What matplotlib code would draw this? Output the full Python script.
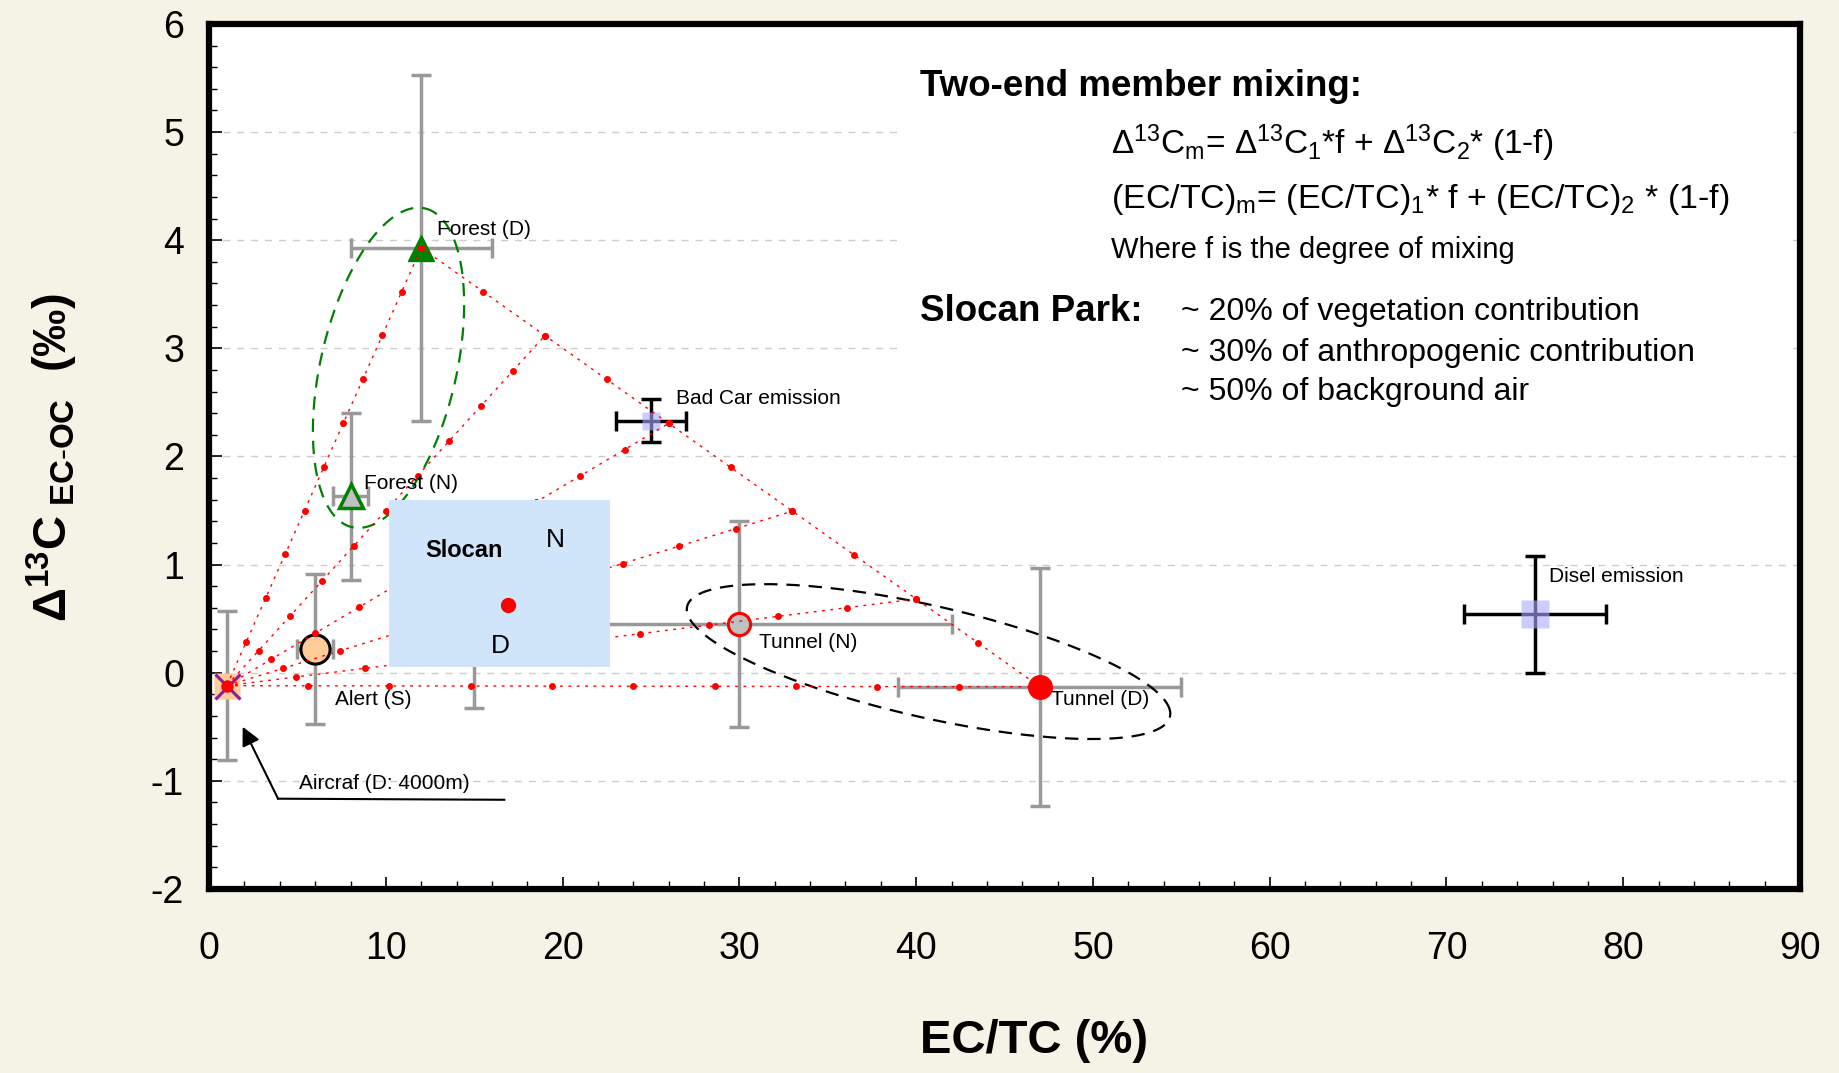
import numpy as np
import matplotlib.pyplot as plt
from matplotlib.patches import Rectangle
from matplotlib.ticker import MultipleLocator

plt.rcParams['font.family'] = ['Liberation Sans', 'DejaVu Sans']
plt.rcParams['mathtext.fontset'] = 'custom'
plt.rcParams['mathtext.rm'] = 'Liberation Sans'
plt.rcParams['mathtext.it'] = 'Liberation Sans:italic'
plt.rcParams['mathtext.bf'] = 'Liberation Sans:bold'
plt.rcParams['mathtext.default'] = 'regular'
plt.rcParams['axes.unicode_minus'] = False

# source samples: EC/TC (%) and D13C EC-OC (permil) with error bars
names = ['Aircraf (D: 4000m)', 'Alert (S)', 'Forest (N)', 'Forest (D)',
         'Bad Car emission', 'Tunnel (N)', 'Tunnel (D)', 'Disel emission']
ec_tc = [1.0, 6.0, 8.0, 12.0, 25.0, 30.0, 47.0, 75.0]
d13c = [-0.12, 0.22, 1.63, 3.93, 2.33, 0.45, -0.13, 0.54]
ec_tc_err = [0.0, 1.0, 1.0, 4.0, 2.0, 12.0, 8.0, 4.0]
d13c_err = [0.69, 0.69, 0.77, 1.6, 0.2, 0.95, 1.1, 0.54]

# Slocan park sample (and the one mostly hidden behind the label box)
slocan_x, slocan_y = 16.9, 0.63
slocan_hidden_x, slocan_hidden_y, slocan_hidden_err = 15.0, 0.55, 0.88

# two-end member mixing: fractions along each mixing line
mix_frac = [0.0, 0.1, 0.2, 0.3, 0.4, 0.5, 0.6, 0.7, 0.8, 0.9, 1.0]
target_frac = [0.0, 0.2, 0.4, 0.6, 0.8, 1.0]

fig = plt.figure(figsize=(18.39, 10.73), dpi=100, facecolor='#F5F3E5')
ax = fig.add_axes([0.1137, 0.1715, 0.8651, 0.8062])

ax.set_xlim(0, 90)
ax.set_ylim(-2, 6)
ax.xaxis.set_major_locator(MultipleLocator(10))
ax.xaxis.set_minor_locator(MultipleLocator(2))
ax.yaxis.set_major_locator(MultipleLocator(1))
ax.yaxis.set_minor_locator(MultipleLocator(0.2))
ax.tick_params(which='both', direction='in', top=False, right=False)
ax.tick_params(which='major', length=9, width=1.2, labelsize=27)
ax.tick_params(which='minor', length=6, width=1.0)
ax.tick_params(axis='y', which='major', pad=18)
ax.tick_params(axis='x', which='major', pad=30)
for s in ax.spines.values():
    s.set_linewidth(4.5)
ax.yaxis.grid(True, color='#cccccc', linestyle=(0, (5, 5)), lw=1)
ax.set_axisbelow(True)

# white panel behind the explanation text
ax.add_patch(Rectangle((39.3, 2.37), 50.3, 3.4, facecolor='white', edgecolor='none', zorder=1))

grey = '#999999'
ebkw = dict(fmt='none', capsize=7, elinewidth=2.5, capthick=2.5, zorder=2)

# error bars
for i in range(len(names)):
    col = 'black' if 'emission' in names[i] else grey
    ax.errorbar(ec_tc[i], d13c[i], xerr=ec_tc_err[i] if ec_tc_err[i] > 0 else None,
                yerr=d13c_err[i], ecolor=col, **ebkw)
ax.errorbar(slocan_hidden_x, slocan_hidden_y, yerr=slocan_hidden_err, ecolor=grey, **ebkw)

# mixing lines
ax_x, ax_y = ec_tc[0], d13c[0]
fd_x, fd_y = ec_tc[3], d13c[3]
td_x, td_y = ec_tc[6], d13c[6]
f = np.array(mix_frac)
ax.plot(fd_x + (td_x - fd_x) * f, fd_y + (td_y - fd_y) * f, color='red', lw=1,
        ls=(0, (2, 4)), marker='o', ms=5, mec='none', zorder=4)
for t in target_frac:
    ex = fd_x + (td_x - fd_x) * t
    ey = fd_y + (td_y - fd_y) * t
    ax.plot(ax_x + (ex - ax_x) * f, ax_y + (ey - ax_y) * f, color='red', lw=1,
            ls=(0, (2, 4)), marker='o', ms=5, mec='none', zorder=4)

# source markers
ax.plot(ec_tc[0], d13c[0], 's', ms=19, mfc='#FFCC99', mec='none', zorder=3)
ax.plot(ec_tc[0], d13c[0], 'x', ms=18, mew=2.2, color='#8B1A9E', zorder=3.5)
ax.plot(ec_tc[0], d13c[0], 'o', ms=9, color='red', mec='none', zorder=4.5)
ax.plot(ec_tc[1], d13c[1], 'o', ms=21, mfc='#FFCC99', mec='black', mew=2.2, zorder=3)
ax.plot(ec_tc[2], d13c[2], '^', ms=17, mfc='#C0C0C0', mec='#008000', mew=2.5, zorder=3)
ax.plot(ec_tc[3], d13c[3], '^', ms=19, mfc='#008000', mec='#008000', zorder=3)
ax.plot(ec_tc[4], d13c[4], 's', ms=13, mfc='#AAAAFF', mec='none', alpha=0.6, zorder=3)
ax.plot(ec_tc[5], d13c[5], 'o', ms=16, mfc='#C0C0C0', mec='red', mew=2.2, zorder=3)
ax.plot(ec_tc[6], d13c[6], 'o', ms=17, mfc='red', mec='red', zorder=5)
ax.plot(ec_tc[7], d13c[7], 's', ms=20, mfc='#AAAAFF', mec='none', alpha=0.6, zorder=3)

# ellipses around forest and tunnel groups
tt = np.linspace(0, 2 * np.pi, 300)
ax.plot(10.15 + 2.06 * np.cos(tt) + 3.75 * np.sin(tt),
        2.82 + 1.474 * np.cos(tt) - 0.14 * np.sin(tt),
        color='#008000', lw=1.6, ls=(0, (6, 4)), zorder=3.8)
ax.plot(40.7 + 13.66 * np.cos(tt) - 0.69 * np.sin(tt),
        0.103 - 0.455 * np.cos(tt) + 0.553 * np.sin(tt),
        color='black', lw=1.6, ls=(0, (6, 4)), zorder=3.8)

# Slocan box
ax.add_patch(Rectangle((10.15, 0.05), 12.55, 1.55, facecolor='#D0E4FA', edgecolor='none', zorder=6))
ax.plot(slocan_x, slocan_y, 'o', ms=11, color='red', mec='none', zorder=7)
ax.text(14.4, 1.13, 'Slocan', fontsize=17, fontweight='bold', ha='center', va='center', zorder=7)
ax.text(19.6, 1.23, 'N', fontsize=19, ha='center', va='center', zorder=7)
ax.text(16.5, 0.25, 'D', fontsize=19, ha='center', va='center', zorder=7)

# point labels
label_pos = [(5.1, -1.02), (7.1, -0.25), (8.75, 1.75), (12.9, 4.1),
             (26.4, 2.54), (31.1, 0.28), (47.6, -0.25), (75.8, 0.89)]
for name, (lx, ly) in zip(names, label_pos):
    ax.text(lx, ly, name, fontsize=15, ha='left', va='center', zorder=8)

# aircraft pointer
ax.plot([3.9, 16.7], [-1.165, -1.175], color='black', lw=1.5, zorder=8)
ax.annotate('', xy=(1.9, -0.5), xytext=(3.9, -1.165),
            arrowprops=dict(arrowstyle='-|>', color='black', lw=1.5, mutation_scale=28,
                            shrinkA=0, shrinkB=0), zorder=8)

# explanation text
ax.text(0.447, 0.928, 'Two-end member mixing:', transform=ax.transAxes,
        fontsize=26.5, fontweight='bold', va='center')
ax.text(0.567, 0.862, 'Δ$^{13}$C$_m$= Δ$^{13}$C$_1$*f + Δ$^{13}$C$_2$* (1-f)',
        transform=ax.transAxes, fontsize=24, va='center')
ax.text(0.567, 0.797, '(EC/TC)$_m$= (EC/TC)$_1$* f + (EC/TC)$_2$ * (1-f)',
        transform=ax.transAxes, fontsize=24.5, va='center')
ax.text(0.567, 0.7385, 'Where f is the degree of mixing', transform=ax.transAxes,
        fontsize=21, va='center')
ax.text(0.447, 0.668, 'Slocan Park:', transform=ax.transAxes,
        fontsize=26.5, fontweight='bold', va='center')
for k, line in enumerate(['~ 20% of vegetation contribution',
                          '~ 30% of anthropogenic contribution',
                          '~ 50% of background air']):
    ax.text(0.611, [0.667, 0.620, 0.5745][k], line, transform=ax.transAxes,
            fontsize=23, va='center')

# axis titles
fig.text(0.5623, 0.0298, 'EC/TC (%)', fontsize=34, fontweight='bold', ha='center', va='center')
fig.text(0.0287, 0.5737, r'$\Delta^{\mathbf{13}}\mathbf{C}_{\ \mathbf{EC}\text{-}\mathbf{OC}}$  (‰)',
         fontsize=34, fontweight='bold', rotation=90, ha='center', va='center')

fig.savefig('out.png', dpi=100, facecolor=fig.get_facecolor())
